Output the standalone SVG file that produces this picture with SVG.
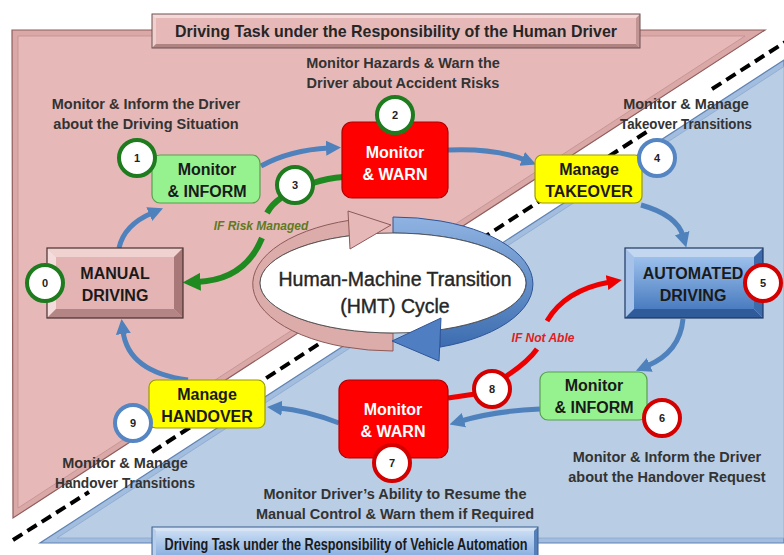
<svg xmlns="http://www.w3.org/2000/svg" width="784" height="555" viewBox="0 0 784 555">
<defs>
<style>
.lbl{font-family:"Liberation Sans",Arial,sans-serif;font-weight:bold;font-size:14.5px;fill:#333;text-anchor:middle}
.nt{font-family:"Liberation Sans",Arial,sans-serif;font-weight:bold;font-size:16px;fill:#1a1a1a;text-anchor:middle}
.nw{fill:#fff}
.num{font-family:"Liberation Sans",Arial,sans-serif;font-weight:bold;font-size:11px;fill:#222;text-anchor:middle}
.cg{fill:#fff;stroke:#1e7b1e;stroke-width:4}
.cb{fill:#fff;stroke:#5585c2;stroke-width:4}
.cr{fill:#fff;stroke:#d40000;stroke-width:4}
.blue{fill:none;stroke:#4f81bd;stroke-width:5;marker-end:url(#ab)}
.green{fill:none;stroke:#1f8a1f;stroke-width:6}
.red{fill:none;stroke:#ee0000;stroke-width:5}
.dash{fill:none;stroke:#000;stroke-width:4;stroke-dasharray:11 6}
.gbox{fill:#96f28f;stroke:#5a9e50;stroke-width:1.2}
.rbox{fill:#ff0000;stroke:#b00000;stroke-width:1.2}
.ybox{fill:#ffff00;stroke:#9a9a00;stroke-width:1.2}
.ital{font-family:"Liberation Sans",Arial,sans-serif;font-weight:bold;font-style:italic;font-size:12px;text-anchor:middle}
</style>
<marker id="ab" viewBox="0 0 10 10" refX="2" refY="5" markerWidth="3" markerHeight="3.3" orient="auto"><path d="M0,0 L10,5 L0,10 z" fill="#4f81bd"/></marker>
<marker id="ag" viewBox="0 0 10 10" refX="2" refY="5" markerWidth="3" markerHeight="3.3" orient="auto"><path d="M0,0 L10,5 L0,10 z" fill="#1f8a1f"/></marker>
<marker id="ar" viewBox="0 0 10 10" refX="2" refY="5" markerWidth="3" markerHeight="3.3" orient="auto"><path d="M0,0 L10,5 L0,10 z" fill="#ee0000"/></marker>
<linearGradient id="gblue" x1="0" y1="0" x2="0" y2="1"><stop offset="0" stop-color="#9cc0ec"/><stop offset="1" stop-color="#4a7cc0"/></linearGradient>
<linearGradient id="gring" x1="0" y1="0" x2="0" y2="1"><stop offset="0" stop-color="#8fb3e2"/><stop offset="1" stop-color="#3d6db0"/></linearGradient>
<linearGradient id="gtitle" x1="0" y1="0" x2="0" y2="1"><stop offset="0" stop-color="#c9dcf3"/><stop offset="1" stop-color="#7ea7dc"/></linearGradient>
</defs>

<g id="background">
<polygon points="12,30 765,30 13,518" fill="#d9a8a7" stroke="#8f5d5c" stroke-width="1.2"/>
<polygon points="18,36 745,36 18,508" fill="#e6b9b8" stroke="#c09190" stroke-width="0.8"/>
<polygon points="784,60 40,543 784,543" fill="#a3bddf" stroke="#5f83b3" stroke-width="1.2"/>
<polygon points="784,66.5 57,538 784,538" fill="#b9cde5" stroke="#8aa8d0" stroke-width="0.8"/>
<path class="dash" d="M13,540 L89,492"/>
<path class="dash" d="M152,452 L648,131"/>
<path class="dash" d="M712,89 L790,39"/>
</g>

<g id="title-human">
<polygon points="152,14 640,14 636,18 156,18" fill="#f3dad9"/>
<polygon points="152,14 156,18 156,44 152,48" fill="#efd0cf"/>
<polygon points="152,48 156,44 636,44 640,48" fill="#b08383"/>
<polygon points="640,14 640,48 636,44 636,18" fill="#c29595"/>
<rect x="156" y="18" width="480" height="26" fill="#e6b9b8"/>
<rect x="152" y="14" width="488" height="34" fill="none" stroke="#6e5050" stroke-width="1"/>
<text x="396" y="37" font-family="Liberation Sans, Arial, sans-serif" font-weight="bold" font-size="17" fill="#262626" text-anchor="middle" textLength="442" lengthAdjust="spacingAndGlyphs">Driving Task under the Responsibility of the Human Driver</text>
</g>

<g id="title-automation">
<polygon points="152,527 538,527 534,531 156,531" fill="#d6e4f6"/>
<polygon points="152,527 156,531 156,560 152,560" fill="#b7cdea"/>
<polygon points="538,527 538,560 534,560 534,531" fill="#557fb8"/>
<rect x="156" y="531" width="378" height="30" fill="url(#gtitle)"/>
<rect x="152" y="527" width="386" height="40" fill="none" stroke="#3b5f8e" stroke-width="1"/>
<text x="346" y="550" font-family="Liberation Sans, Arial, sans-serif" font-weight="bold" font-size="16.5" fill="#1a1a1a" text-anchor="middle" textLength="363" lengthAdjust="spacingAndGlyphs">Driving Task under the Responsibility of Vehicle Automation</text>
</g>

<g id="hmt-cycle">
<path d="M350,220.2 A140,67 0 0 0 393,351 L393,333 A133,50 0 0 1 350,235.7 Z" fill="#dcacab" stroke="#8c5a59" stroke-width="1"/>
<path d="M393,217 A140,67 0 0 1 440,347.1 L440,329.8 A133,50 0 0 0 393,233 Z" fill="url(#gring)" stroke="#2f5597" stroke-width="1"/>
<ellipse cx="393" cy="283" rx="133" ry="50" fill="#fff" stroke="#555" stroke-width="1"/>
<path d="M348,211 L391,225 L350,249 Z" fill="#e6b9b8" stroke="#8c5a59" stroke-width="1"/>
<path d="M441,318 L392,341 L439,361 Z" fill="#4f7fc2" stroke="#2f5597" stroke-width="1"/>
<text x="395" y="286" font-family="Liberation Sans, Arial, sans-serif" font-size="19.5" fill="#262626" text-anchor="middle" stroke="#262626" stroke-width="0.4">Human-Machine Transition</text>
<text x="395" y="313" font-family="Liberation Sans, Arial, sans-serif" font-size="19.5" fill="#262626" text-anchor="middle" stroke="#262626" stroke-width="0.4">(HMT) Cycle</text>
</g>

<g id="connectors">
<path class="blue" d="M119,248 Q124,225 152,213"/>
<path class="blue" d="M261,166 Q290,150 329,148"/>
<path class="blue" d="M448,150 Q495,148 525,160"/>
<path class="blue" d="M641,205 Q677,215 683,236"/>
<path class="blue" d="M683,319 Q680,352 647,366"/>
<path class="blue" d="M540,409 Q495,411 461,421"/>
<path class="blue" d="M339,423 Q305,410 279,408"/>
<path class="blue" d="M188,380 Q128,372 123,331"/>
<path class="green" d="M313,183 Q328,178 343,177"/>
<path class="green" d="M281,198 Q272,204 267,213"/>
<path class="green" d="M262,238 Q245,280 197,282" marker-end="url(#ag)"/>
<text class="ital" x="261" y="230" fill="#5f7a1f">IF Risk Managed</text>
<path class="red" d="M448,398 Q462,396 475,394"/>
<path class="red" d="M505,377 Q528,362 537,349"/>
<path class="red" d="M547,321 Q565,290 610,282" marker-end="url(#ar)"/>
<text class="ital" x="543" y="342" fill="#e02020">IF Not Able</text>
</g>

<g id="node0-manual-driving">
<polygon points="47,248 183,248 174,257 56,257" fill="#f0d2d1"/>
<polygon points="47,248 56,257 56,309 47,318" fill="#f3dcdb"/>
<polygon points="47,318 56,309 174,309 183,318" fill="#b38585"/>
<polygon points="183,248 183,318 174,309 174,257" fill="#a87878"/>
<rect x="56" y="257" width="118" height="52" fill="#e3b4b3"/>
<rect x="47" y="248" width="136" height="70" fill="none" stroke="#4a3030" stroke-width="1.2"/>
<text class="nt" x="115" y="279">MANUAL</text>
<text class="nt" x="115" y="301">DRIVING</text>
<circle class="cg" cx="45" cy="283" r="18"/>
<text class="num" x="45" y="287">0</text>
</g>

<g id="node1-monitor-inform">
<rect class="gbox" x="152" y="155" width="108" height="48" rx="8"/>
<text class="nt" x="207" y="175">Monitor</text>
<text class="nt" x="207" y="197">&amp; INFORM</text>
<circle class="cg" cx="137" cy="158" r="18"/>
<text class="num" x="137" y="162">1</text>
</g>

<g id="node2-monitor-warn">
<rect class="rbox" x="342" y="122" width="106" height="76" rx="10"/>
<text class="nt nw" x="395" y="158">Monitor</text>
<text class="nt nw" x="395" y="180">&amp; WARN</text>
<circle class="cg" cx="395" cy="115" r="18"/>
<text class="num" x="395" y="119">2</text>
</g>

<g id="node3">
<circle class="cg" cx="295" cy="185" r="18"/>
<text class="num" x="295" y="189">3</text>
</g>

<g id="node4-manage-takeover">
<rect class="ybox" x="535" y="155" width="107" height="48" rx="7"/>
<text class="nt" x="589" y="175">Manage</text>
<text class="nt" x="589" y="197">TAKEOVER</text>
<circle class="cb" cx="657" cy="158" r="18"/>
<text class="num" x="657" y="162">4</text>
</g>

<g id="node5-automated-driving">
<polygon points="625,248 763,248 754,257 634,257" fill="#c3d7f1"/>
<polygon points="625,248 634,257 634,309 625,318" fill="#a6c2e8"/>
<polygon points="625,318 634,309 754,309 763,318" fill="#2f5b9a"/>
<polygon points="763,248 763,318 754,309 754,257" fill="#3d6cad"/>
<rect x="634" y="257" width="120" height="52" fill="url(#gblue)"/>
<rect x="625" y="248" width="138" height="70" fill="none" stroke="#1f3864" stroke-width="1.2"/>
<text class="nt" x="693" y="279" fill="#111a33">AUTOMATED</text>
<text class="nt" x="693" y="301">DRIVING</text>
<circle class="cr" cx="763" cy="283" r="18"/>
<text class="num" x="763" y="287">5</text>
</g>

<g id="node6-monitor-inform">
<rect class="gbox" x="540" y="372" width="107" height="48" rx="8"/>
<text class="nt" x="594" y="391">Monitor</text>
<text class="nt" x="594" y="413">&amp; INFORM</text>
<circle class="cr" cx="662" cy="418" r="18"/>
<text class="num" x="662" y="422">6</text>
</g>

<g id="node7-monitor-warn">
<rect class="rbox" x="339" y="380" width="109" height="78" rx="10"/>
<text class="nt nw" x="393" y="415">Monitor</text>
<text class="nt nw" x="393" y="437">&amp; WARN</text>
<circle class="cr" cx="392" cy="463" r="18"/>
<text class="num" x="392" y="467">7</text>
</g>

<g id="node8">
<circle class="cr" cx="492" cy="389" r="18"/>
<text class="num" x="492" y="393">8</text>
</g>

<g id="node9-manage-handover">
<rect class="ybox" x="149" y="380" width="116" height="48" rx="7"/>
<text class="nt" x="207" y="400">Manage</text>
<text class="nt" x="207" y="422">HANDOVER</text>
<circle class="cb" cx="133" cy="423" r="18"/>
<text class="num" x="133" y="427">9</text>
</g>

<g id="labels">
<text class="lbl" x="146" y="109">Monitor &amp; Inform the Driver</text>
<text class="lbl" x="146" y="129">about the Driving Situation</text>
<text class="lbl" x="403" y="68">Monitor Hazards &amp; Warn the</text>
<text class="lbl" x="403" y="88">Driver about Accident Risks</text>
<text class="lbl" x="686" y="109">Monitor &amp; Manage</text>
<text class="lbl" x="686" y="129" textLength="132" lengthAdjust="spacingAndGlyphs">Takeover Transitions</text>
<text class="lbl" x="125" y="468">Monitor &amp; Manage</text>
<text class="lbl" x="125" y="488" textLength="140" lengthAdjust="spacingAndGlyphs">Handover Transitions</text>
<text class="lbl" x="395" y="499">Monitor Driver’s Ability to Resume the</text>
<text class="lbl" x="395" y="519">Manual Control &amp; Warn them if Required</text>
<text class="lbl" x="667" y="462">Monitor &amp; Inform the Driver</text>
<text class="lbl" x="667" y="482">about the Handover Request</text>
</g>
</svg>
